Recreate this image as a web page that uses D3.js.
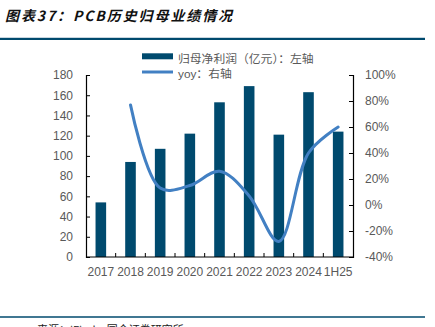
<!DOCTYPE html>
<html><head><meta charset="utf-8">
<script src="https://cdn.jsdelivr.net/npm/d3@7"></script>
<style>body{margin:0;background:#fff}svg{display:block}</style>
</head><body>
<svg id="c" width="435" height="327"></svg>
<script>
const categories = ["2017","2018","2019","2020","2021","2022","2023","2024","1H25"];
const profit = [54, 94, 107, 122, 153, 169, 121, 163, 124];
const yoy = [null, 77, 13, 15, 26, 7, -28, 40, 60];
const leftTicks = [0,20,40,60,80,100,120,140,160,180];
const rightTicks = [-40,-20,0,20,40,60,80,100];
const titleText = "图表37：PCB历史归母业绩情况";
const sourceText = "来源：iFind，国金证券研究所";
const legendBar = "归母净利润（亿元）：左轴";
const legendLine = "yoy：右轴";

const svg = d3.select("#c");
const L = 86, R = 353, T = 75, B = 257;
const barColor = "#004a6e", lineColor = "#4280c3", txt = "#595959";
const font = "'Liberation Sans', Arial, 'Noto Sans CJK SC', sans-serif";
const cjk = "'Noto Sans CJK SC', sans-serif";

// header
svg.append("text").attr("x", 5).attr("y", 21).text(titleText)
  .attr("font-family", cjk).attr("font-size", 14)
  .attr("font-weight", "bold").attr("font-style", "italic").attr("letter-spacing", 1.9).attr("fill", "#111");
svg.append("line").attr("x1", 0).attr("x2", 425).attr("y1", 37.5).attr("y2", 37.5).attr("stroke", "#c9d6df").attr("stroke-width", 1);
svg.append("line").attr("x1", 0).attr("x2", 425).attr("y1", 39).attr("y2", 39).attr("stroke", barColor).attr("stroke-width", 2);
svg.append("line").attr("x1", 0).attr("x2", 425).attr("y1", 317).attr("y2", 317).attr("stroke", barColor).attr("stroke-width", 1.5);
svg.append("text").attr("x", 37).attr("y", 334).text(sourceText)
  .attr("font-family", cjk).attr("font-size", 11).attr("fill", "#222");

const x = d3.scaleBand().domain(categories).range([L, R]);
const yL = d3.scaleLinear().domain([0, 180]).range([B, T]);
const yR = d3.scaleLinear().domain([-40, 100]).range([B, T]);

// bars
svg.append("g").selectAll("rect").data(categories).join("rect")
  .attr("x", d => x(d) + x.bandwidth()/2 - 5.3)
  .attr("width", 10.6)
  .attr("y", (d,i) => yL(profit[i]))
  .attr("height", (d,i) => B - yL(profit[i]))
  .attr("fill", barColor);

// axes
const axL = svg.append("g").attr("transform", `translate(${L},0)`)
  .call(d3.axisLeft(yL).tickValues(leftTicks).tickSize(-4).tickPadding(13));
const axR = svg.append("g").attr("transform", `translate(${R},0)`)
  .call(d3.axisRight(yR).tickValues(rightTicks).tickSize(-4).tickPadding(12).tickFormat(d => d + "%"));
const axX = svg.append("g").attr("transform", `translate(0,${B})`)
  .call(d3.axisBottom(x).tickSize(0).tickPadding(10));
// category boundary ticks
svg.append("g").selectAll("line").data(categories.slice(1)).join("line")
  .attr("x1", d => x(d)).attr("x2", d => x(d)).attr("y1", B).attr("y2", B - 4)
  .attr("stroke", "#000");
[axL, axR, axX].forEach(a => {
  a.select(".domain").attr("stroke", "#000").attr("stroke-width", 1.2);
  a.selectAll(".tick line").attr("stroke", "#000");
  a.selectAll("text").attr("font-family", font).attr("font-size", 12).attr("fill", txt);
});
axX.select(".domain").attr("d", `M${L},0H${R}`);

// line
const pts = categories.map((c, i) => [x(c) + x.bandwidth()/2, yoy[i]]).filter(p => p[1] !== null);
svg.append("path").datum(pts)
  .attr("d", d3.line().x(p => p[0]).y(p => yR(p[1])).curve(d3.curveCatmullRom.alpha(0.5)))
  .attr("fill", "none").attr("stroke", lineColor).attr("stroke-width", 3).attr("stroke-linecap", "round");

// legend
svg.append("rect").attr("x", 142).attr("y", 53.3).attr("width", 31).attr("height", 6).attr("fill", barColor);
svg.append("line").attr("x1", 142).attr("x2", 173).attr("y1", 72).attr("y2", 72)
  .attr("stroke", lineColor).attr("stroke-width", 3);
svg.append("text").attr("x", 178).attr("y", 62.5).text(legendBar)
  .attr("font-family", cjk).attr("font-size", 11.8).attr("fill", txt);
svg.append("text").attr("x", 178).attr("y", 77.5).text(legendLine)
  .attr("font-family", font).attr("font-size", 11.8).attr("fill", txt);
</script>
</body></html>
